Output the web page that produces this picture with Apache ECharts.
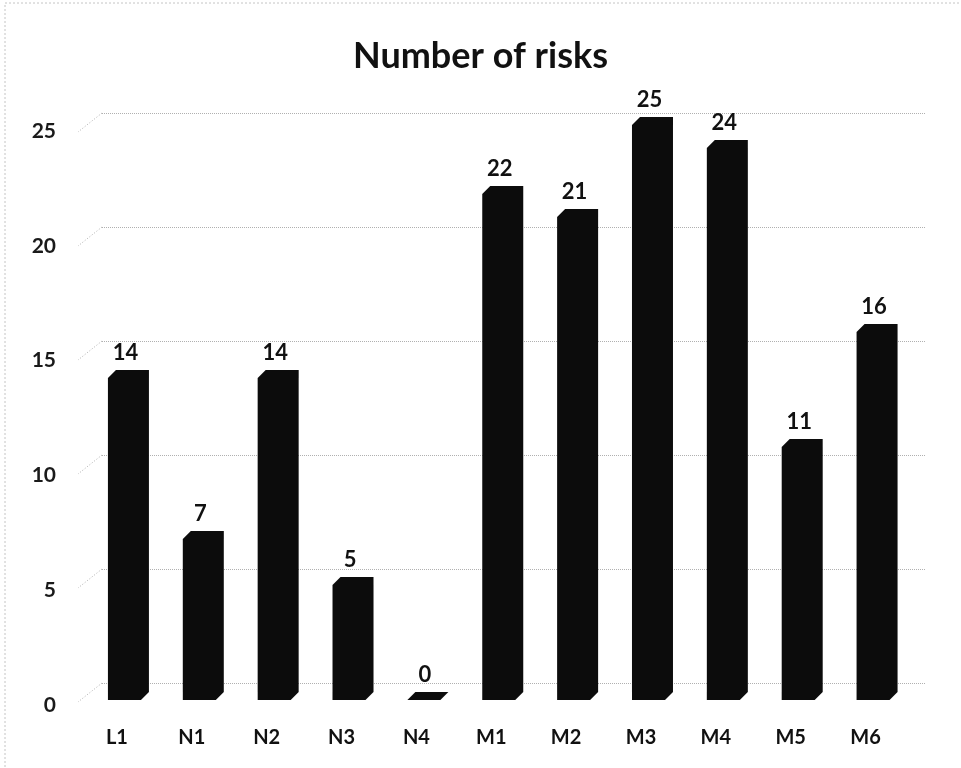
<!DOCTYPE html>
<html>
<head>
<meta charset="utf-8">
<title>Number of risks</title>
<script src="https://cdn.jsdelivr.net/npm/echarts@6/dist/echarts.min.js"></script>
<style>
  html, body { margin: 0; padding: 0; background: #ffffff; }
  #chart { width: 961px; height: 768px; }
</style>
</head>
<body>
<div id="chart"></div>
<script>
// Risk counts per area
const categories = ['L1', 'N1', 'N2', 'N3', 'N4', 'M1', 'M2', 'M3', 'M4', 'M5', 'M6'];
const riskCounts = [14, 7, 14, 5, 0, 22, 21, 25, 24, 11, 16];
const yTicks = [0, 5, 10, 15, 20, 25];

const FONT = 'Lato, "Open Sans", sans-serif';
const DEPTH = 8;        // depth offset of the 3D box (px)
const FACE = 33;        // width of the front face (px)
const WALL_DX = 24;     // floor-edge slant of the back wall gridlines
const WALL_DY = 19;

const chart = echarts.init(document.getElementById('chart'), null, { renderer: 'canvas' });

const option = {
  backgroundColor: '#ffffff',
  animation: false,
  title: {
    text: 'Number of risks',
    left: 'center',
    top: 33,
    textStyle: { fontFamily: FONT, fontSize: 36, fontWeight: 'bold', color: '#111' }
  },
  graphic: [{
    type: 'rect',
    shape: { x: 5, y: 3, width: 1000, height: 800 },
    style: { fill: 'none', stroke: '#c4c4c4', lineWidth: 1, lineDash: [2, 2] },
    silent: true
  }],
  grid: [
    // bars (front plane)
    { left: 91, right: 46.5, top: 125, bottom: 68 },
    // value axis labels (front edge)
    { left: 78, right: 36, top: 131, bottom: 63 },
    // back wall gridlines
    { left: 102, right: 36, top: 113, bottom: 85 }
  ],
  xAxis: [
    {
      gridIndex: 0, type: 'category', data: categories,
      axisLine: { show: false }, axisTick: { show: false },
      axisLabel: {
        margin: 28, padding: [0, 23, 0, 0],
        fontFamily: FONT, fontSize: 20, fontWeight: 'bold', color: '#111'
      }
    },
    { gridIndex: 1, type: 'value', show: false, min: 0, max: 1 },
    { gridIndex: 2, type: 'value', show: false, min: 0, max: 1 }
  ],
  yAxis: [
    {
      gridIndex: 0, type: 'value', min: 0, max: 25, interval: 5,
      axisLine: { show: false }, axisTick: { show: false },
      axisLabel: { show: false }, splitLine: { show: false }
    },
    {
      gridIndex: 1, type: 'value', min: 0, max: 25, interval: 5,
      axisLine: { show: false }, axisTick: { show: false }, splitLine: { show: false },
      axisLabel: { margin: 22, fontFamily: FONT, fontSize: 21, fontWeight: 'bold', color: '#1a1a1a' }
    },
    {
      gridIndex: 2, type: 'value', min: 0, max: 25, interval: 5,
      axisLine: { show: false }, axisTick: { show: false }, axisLabel: { show: false },
      splitLine: { show: true, lineStyle: { color: '#b0b0b0', type: 'dotted', width: 1 } }
    }
  ],
  series: [
    {
      // slanted floor edges of the back wall gridlines
      type: 'custom',
      xAxisIndex: 2, yAxisIndex: 2,
      silent: true,
      data: yTicks.map(v => [0, v]),
      renderItem: function (params, api) {
        const p = api.coord([0, api.value(1)]);
        return {
          type: 'line',
          shape: { x1: p[0], y1: p[1], x2: p[0] - WALL_DX, y2: p[1] + WALL_DY },
          style: { stroke: '#b0b0b0', lineWidth: 1, lineDash: [1, 2] }
        };
      },
      z: 1
    },
    {
      // 3D boxes for the risk counts
      type: 'custom',
      xAxisIndex: 0, yAxisIndex: 0,
      data: riskCounts.map((v, i) => [i, v]),
      renderItem: function (params, api) {
        const v = api.value(1);
        const top = api.coord([api.value(0), v]);
        const base = api.coord([api.value(0), 0]);
        const c = top[0];
        const x0 = c - (FACE + DEPTH) / 2;
        const x1 = x0 + FACE;
        const yt = top[1];
        const yb = base[1];
        return {
          type: 'group',
          children: [
            {
              type: 'polygon',
              shape: {
                points: [
                  [x0, yb], [x0, yt], [x0 + DEPTH, yt - DEPTH],
                  [x1 + DEPTH, yt - DEPTH], [x1 + DEPTH, yb - DEPTH], [x1, yb]
                ]
              },
              style: { fill: '#0c0c0c' }
            },
            {
              type: 'text',
              style: {
                text: String(v),
                x: (x0 + x1) / 2 + 1,
                y: yt - DEPTH - 6,
                align: 'center',
                verticalAlign: 'bottom',
                fontFamily: FONT, fontSize: 22, fontWeight: 'bold', fill: '#111'
              }
            }
          ]
        };
      },
      z: 3
    }
  ]
};

chart.setOption(option);
</script>
</body>
</html>
